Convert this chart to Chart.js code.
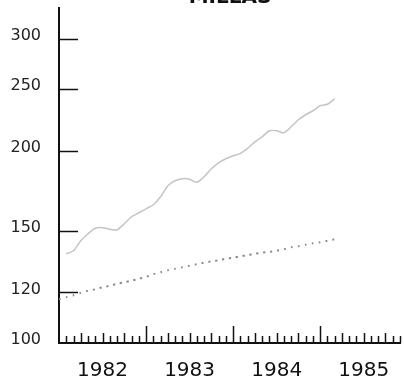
<!DOCTYPE html>
<html>
<head>
<meta charset="utf-8">
<script src="https://cdn.jsdelivr.net/npm/chart.js@4.4.1/dist/chart.umd.min.js"></script>
<style>
html,body{margin:0;padding:0;background:#fff;overflow:hidden;}
#wrap{position:relative;width:404px;height:380px;}
#title{position:absolute;top:-16px;left:0;width:460px;text-align:center;font:bold 20px "DejaVu Sans";color:#111;}
</style>
</head>
<body>
<div id="wrap">
<canvas id="chart" width="404" height="380"></canvas>
<div id="title">MILLAS</div>
</div>
<script>
// month index, 0 = Jan 1982
const months = [0,1,2,3,4,5,6,7,8,9,10,11,12,13,14,15,16,17,18,19,20,21,22,23,24,25,26,27,28,29,30,31,32,33,34,35,36,37,38];

const solidValues = [null,138.0,139.5,144.6,148.3,151.3,151.6,150.8,150.5,153.8,157.7,160.0,162.3,164.7,169.5,176.4,179.6,180.9,180.6,178.6,182.2,187.5,191.6,194.4,196.5,198.3,201.9,206.7,210.5,215.1,215.1,213.5,218.2,223.8,227.9,231.2,235.4,236.7,241.5];

const dottedValues = [117.1,118.0,118.8,119.9,120.8,121.4,122.3,122.9,123.8,124.5,125.2,126.1,127.0,128.2,129.1,130.0,130.7,131.4,132.2,132.9,133.6,134.3,134.8,135.6,136.0,136.8,137.3,138.0,138.5,139.0,139.5,140.3,141.3,141.8,142.6,143.3,143.9,144.6,145.4];

const yearLabels = ["1982","1983","1984","1985"];
const yearTickPos = [6,18,30,42];
const yTicks = [100,120,150,200,250,300];

const axisTicks = {
id:"axisTicks",
afterDraw(chart){
const ctx = chart.ctx;
const xs = chart.scales.x;
const ys = chart.scales.y;
const area = chart.chartArea;
ctx.save();
ctx.strokeStyle = "#111";
ctx.lineWidth = 1.5;
for(let m = 1; m <= 47; m++){
const x = Math.round(xs.getPixelForValue(m)) + 0.5;
let len = 7;
if(m % 3 == 0) len = 10;
if(m % 12 == 0) len = 17;
ctx.beginPath();
ctx.moveTo(x, area.bottom);
ctx.lineTo(x, area.bottom - len);
ctx.stroke();
}
yTicks.forEach(v=>{
if(v == 100) return;
const y = Math.round(ys.getPixelForValue(v)) + 0.5;
ctx.beginPath();
ctx.moveTo(area.left, y);
ctx.lineTo(area.left + 19, y);
ctx.stroke();
});
ctx.restore();
}
};

new Chart(
document.getElementById("chart"),
{
type:"line",
data:{
datasets:[
{
data:months.map((m,i)=>({x:m,y:solidValues[i]})),
borderColor:"#c4c4c4",
borderWidth:1.5,
pointRadius:0,
tension:0.25
},
{
data:months.map((m,i)=>({x:m,y:dottedValues[i]})),
borderColor:"#8a8a8a",
borderWidth:2,
borderDash:[2,5],
pointRadius:0,
tension:0.2
}
]
},
options:{
responsive:false,
animation:false,
layout:{padding:{top:8,right:4,left:0,bottom:0}},
plugins:{
legend:{display:false},
tooltip:{enabled:false}
},
scales:{
x:{
type:"linear",
min:0,
max:47,
grid:{display:false},
border:{display:true,color:"#111",width:2},
afterBuildTicks:(s)=>{ s.ticks = yearTickPos.map(v=>({value:v})); },
afterFit:(s)=>{ s.height = 37; s.paddingLeft = 0; s.paddingRight = 0; },
ticks:{
autoSkip:false,
maxRotation:0,
padding:8,
color:"#111",
font:{family:"DejaVu Sans",size:20},
callback:(v)=>yearLabels[yearTickPos.indexOf(v)]
}
},
y:{
type:"logarithmic",
min:100,
max:335,
grid:{display:false},
border:{display:true,color:"#111",width:2},
afterBuildTicks:(s)=>{ s.ticks = yTicks.map(v=>({value:v})); },
afterFit:(s)=>{ s.width = 59; s.paddingTop = 0; s.paddingBottom = 0; },
ticks:{
padding:10,
labelOffset:-3,
color:"#222",
font:{family:"DejaVu Sans",size:16},
callback:(v)=>String(v)
}
}
}
},
plugins:[axisTicks]
}
);
</script>
</body>
</html>
